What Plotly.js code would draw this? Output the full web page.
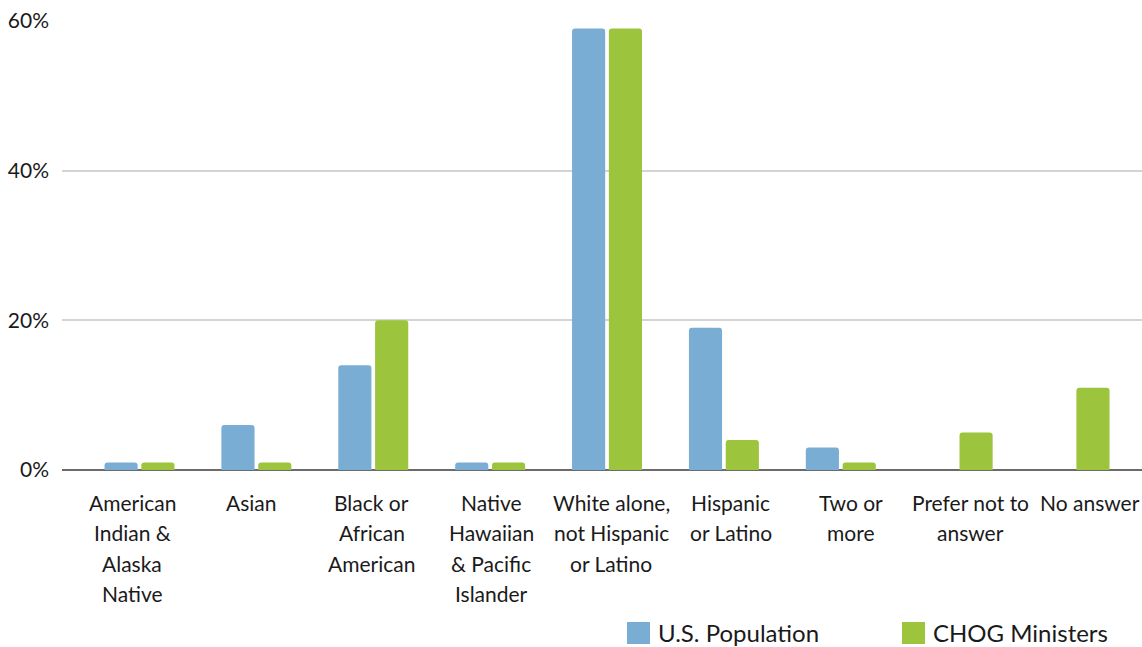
<!DOCTYPE html>
<html>
<head>
<meta charset="utf-8">
<script src="https://cdn.plot.ly/plotly-3.0.1.min.js"></script>
<style>
  html, body { margin: 0; padding: 0; background: #ffffff; }
  #chart { width: 1142px; height: 647px; }
</style>
</head>
<body>
<div id="chart"></div>
<script>
// Racial / ethnic makeup: U.S. population vs. CHOG ministers (percent)
const categories = [
  "American Indian & Alaska Native",
  "Asian",
  "Black or African American",
  "Native Hawaiian & Pacific Islander",
  "White alone, not Hispanic or Latino",
  "Hispanic or Latino",
  "Two or more",
  "Prefer not to answer",
  "No answer"
];
const tickLabels = [
  ["American", "Indian &", "Alaska", "Native"],
  ["Asian"],
  ["Black or", "African", "American"],
  ["Native", "Hawaiian", "& Pacific", "Islander"],
  ["White alone,", "not Hispanic", "or Latino"],
  ["Hispanic", "or Latino"],
  ["Two or", "more"],
  ["Prefer not to", "answer"],
  ["No answer"]
];
const usPopulation = [1, 6, 14, 1, 59, 19, 3, 0, 0];
const chogMinisters = [1, 1, 20, 1, 59, 4, 1, 5, 11];
const seriesNames = ["U.S. Population", "CHOG Ministers"];
const yTicks = [0, 20, 40, 60];

const BLUE = "#7aadd4";
const GREEN = "#9cc43c";
const TEXT = "#1a1a1a";
const FONT = "Lato, 'Open Sans', sans-serif";

const W = 1142, H = 647;
const M = { l: 62, r: 0, t: 21, b: 177 };
const plotW = W - M.l - M.r;
const plotH = H - M.t - M.b;
const px2x = p => (p - M.l) / plotW;
const py2y = p => (H - M.b - p) / plotH;

const traces = [
  { type: "bar", name: seriesNames[0], x: categories, y: usPopulation,
    marker: { color: BLUE }, hoverinfo: "x+y" },
  { type: "bar", name: seriesNames[1], x: categories, y: chogMinisters,
    marker: { color: GREEN }, hoverinfo: "x+y" },
  // invisible carrier for the label axis (x2)
  { type: "scatter", mode: "none", x: categories, y: categories.map(() => 0),
    xaxis: "x2", yaxis: "y", hoverinfo: "skip", showlegend: false }
];

// Category labels, one text line each, set on a slightly wider label axis
const LINE_TOP = 502, LINE_STEP = 30.5;
const labelAnnotations = [];
tickLabels.forEach((lines, i) => {
  lines.forEach((line, k) => {
    labelAnnotations.push({
      xref: "x2", yref: "paper",
      x: categories[i], y: py2y(LINE_TOP + k * LINE_STEP),
      xanchor: "center", yanchor: "middle",
      text: line, showarrow: false,
      font: { family: FONT, size: 21, color: TEXT }
    });
  });
});

// Legend keys drawn as square swatches with labels beneath the axis
const legendItems = [
  { name: seriesNames[0], color: BLUE, x0: 627 },
  { name: seriesNames[1], color: GREEN, x0: 902 }
];
const shapes = legendItems.map(it => ({
  type: "rect", xref: "paper", yref: "paper",
  x0: px2x(it.x0), x1: px2x(it.x0 + 23),
  y0: py2y(644), y1: py2y(622),
  fillcolor: it.color, line: { width: 0 }
}));
const legendAnnotations = legendItems.map(it => ({
  xref: "paper", yref: "paper",
  x: px2x(it.x0 + 29), y: py2y(632),
  xanchor: "left", yanchor: "middle",
  text: it.name, showarrow: false,
  font: { family: FONT, size: 24, color: TEXT }
}));

const layout = {
  width: W, height: H,
  margin: M,
  paper_bgcolor: "#ffffff",
  plot_bgcolor: "#ffffff",
  showlegend: false,
  barmode: "group",
  bargap: 0.37,
  bargroupgap: 0.1,
  barcornerradius: 3,
  font: { family: FONT, size: 20, color: TEXT },
  xaxis: {
    type: "category",
    categoryarray: categories,
    range: [-0.663, 8.577],
    showgrid: false,
    showline: false,
    showticklabels: false,
    ticks: "",
    fixedrange: true
  },
  xaxis2: {
    type: "category",
    categoryarray: categories,
    overlaying: "x",
    anchor: "y",
    range: [-0.585, 8.434],
    visible: false,
    fixedrange: true
  },
  yaxis: {
    range: [0, 60],
    tickmode: "array",
    tickvals: yTicks,
    ticktext: yTicks.map(v => v + "%"),
    showgrid: true,
    gridcolor: "#d4d4d4",
    gridwidth: 2,
    zeroline: true,
    zerolinecolor: "#6b6b6b",
    zerolinewidth: 2,
    showline: false,
    ticks: "",
    ticklabelstandoff: 12,
    tickfont: { family: FONT, size: 21, color: TEXT },
    fixedrange: true
  },
  shapes: shapes,
  annotations: labelAnnotations.concat(legendAnnotations)
};

Plotly.newPlot("chart", traces, layout, { displayModeBar: false, staticPlot: true });
</script>
</body>
</html>
